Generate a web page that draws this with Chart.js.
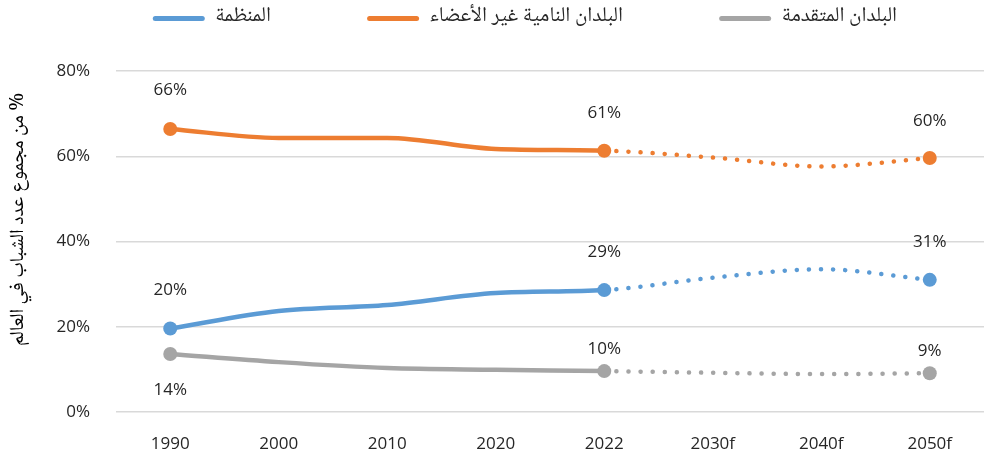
<!DOCTYPE html>
<html>
<head>
<meta charset="utf-8">
<script src="https://cdn.jsdelivr.net/npm/chart.js@4"></script>
<style>
  html, body { margin: 0; padding: 0; background: #fff; }
  #wrap { width: 984px; height: 462px; }
</style>
</head>
<body>
<div id="wrap"><canvas id="youthChart"></canvas></div>
<script>
// Chart data
const years = ["1990", "2000", "2010", "2020", "2022", "2030f", "2040f", "2050f"];
const seriesNames = ["المنظمة", "البلدان النامية غير الأعضاء", "البلدان المتقدمة"];
const oicShare = [19.6, 23.7, 25.1, 27.9, 28.6, 31.5, 33.5, 31.0];
const nonMemberShare = [66.4, 64.3, 64.3, 61.7, 61.3, 59.7, 57.6, 59.6];
const developedShare = [13.6, 11.7, 10.3, 9.9, 9.6, 9.2, 8.9, 9.1];
const yTicks = [0, 20, 40, 60, 80];
const labelledPoints = [0, 4, 7];
const yTitle = "من مجموع عدد الشباب في العالم %";

const arabicFont = '"Noto Naskh Arabic", "Noto Sans Arabic", "DejaVu Sans", sans-serif';
const numFont = '"Open Sans", sans-serif';
const textColor = "#262626";
const nbsp = "\u00A0";

const forecastFrom = 4; // segments after 2022 are projections (dotted)

function makeSet(name, values, color) {
  return {
    label: name,
    data: values,
    borderColor: color,
    backgroundColor: color,
    borderWidth: 4.5,
    borderCapStyle: "round",
    cubicInterpolationMode: "monotone",
    pointRadius: values.map((v, i) => (labelledPoints.includes(i) ? 7 : 0)),
    pointBackgroundColor: color,
    pointBorderWidth: 0,
    segment: {
      borderDash: (c) => (c.p0DataIndex >= forecastFrom ? [0.1, 12] : undefined),
    },
  };
}

// value labels (1990, 2022, 2050f)
const labelOffsets = [
  [-38, -38, -38],
  [-39, -38, -37],
  [36, -22, -22],
];
const valueLabels = {
  id: "valueLabels",
  afterDatasetsDraw(chart) {
    const ctx = chart.ctx;
    ctx.save();
    ctx.font = "17px " + numFont;
    ctx.fillStyle = textColor;
    ctx.textAlign = "center";
    ctx.textBaseline = "middle";
    chart.data.datasets.forEach((ds, di) => {
      const meta = chart.getDatasetMeta(di);
      labelledPoints.forEach((idx, k) => {
        const pt = meta.data[idx];
        ctx.fillText(Math.round(ds.data[idx]) + "%", pt.x, pt.y + labelOffsets[di][k]);
      });
    });
    ctx.restore();
  },
};

// give the legend a fixed band at the top
const legendBand = {
  id: "legendBand",
  afterInit(chart) {
    const lg = chart.legend;
    if (lg && !lg._banded) {
      const fit = lg.fit;
      lg.fit = function () {
        fit.call(this);
        this.height = 71;
      };
      lg._banded = true;
    }
  },
};

function spaces(font, px) {
  const c = document.createElement("canvas").getContext("2d");
  c.font = font;
  const w = c.measureText(nbsp).width || 5;
  return nbsp.repeat(Math.max(0, Math.round(px / w)));
}

const legendGaps = [89, 89, 81]; // trailing room after each legend label
const legendFontSize = 21;

const ctx = document.getElementById("youthChart").getContext("2d");
const youthChart = new Chart(ctx, {
  type: "line",
  data: {
    labels: years,
    datasets: [
      makeSet(seriesNames[0], oicShare, "#5b9bd5"),
      makeSet(seriesNames[1], nonMemberShare, "#ed7d31"),
      makeSet(seriesNames[2], developedShare, "#a5a5a5"),
    ],
  },
  options: {
    responsive: true,
    maintainAspectRatio: false,
    animation: false,
    events: [],
    layout: { padding: 0, autoPadding: false },
    plugins: {
      tooltip: { enabled: false },
      legend: {
        position: "top",
        align: "end",
        labels: {
          font: { family: arabicFont, size: legendFontSize },
          color: textColor,
          boxWidth: 52,
          boxHeight: 5,
          useBorderRadius: true,
          borderRadius: 2.5,
          padding: 8,
          generateLabels(chart) {
            const items = Chart.defaults.plugins.legend.labels.generateLabels(chart);
            const f = legendFontSize + "px " + arabicFont;
            items.forEach((it, i) => {
              it.lineWidth = 0;
              it.text = it.text + spaces(f, legendGaps[i]);
            });
            return items;
          },
        },
      },
    },
    scales: {
      x: {
        offset: true,
        grid: { display: false },
        border: { display: false },
        ticks: { font: { family: numFont, size: 17 }, color: textColor, padding: 14 },
        afterFit(s) {
          s.height = 50;
        },
      },
      y: {
        min: yTicks[0],
        max: yTicks[yTicks.length - 1],
        afterBuildTicks(s) { s.ticks = yTicks.map((v) => ({ value: v })); },
        grid: { color: "#d9d9d9", lineWidth: 1.5, drawTicks: false },
        border: { display: false },
        ticks: {
          font: { family: numFont, size: 17 },
          color: textColor,
          padding: 26,
          callback: (v) => v + "%",
        },
        title: {
          display: true,
          text: spaces("20px " + arabicFont, 42) + yTitle,
          font: { family: arabicFont, size: 20 },
          color: "#000000",
          padding: { top: 8, bottom: 0 },
        },
        afterFit(s) { s.width = 116; },
      },
    },
  },
  plugins: [valueLabels, legendBand],
});
</script>
</body>
</html>
